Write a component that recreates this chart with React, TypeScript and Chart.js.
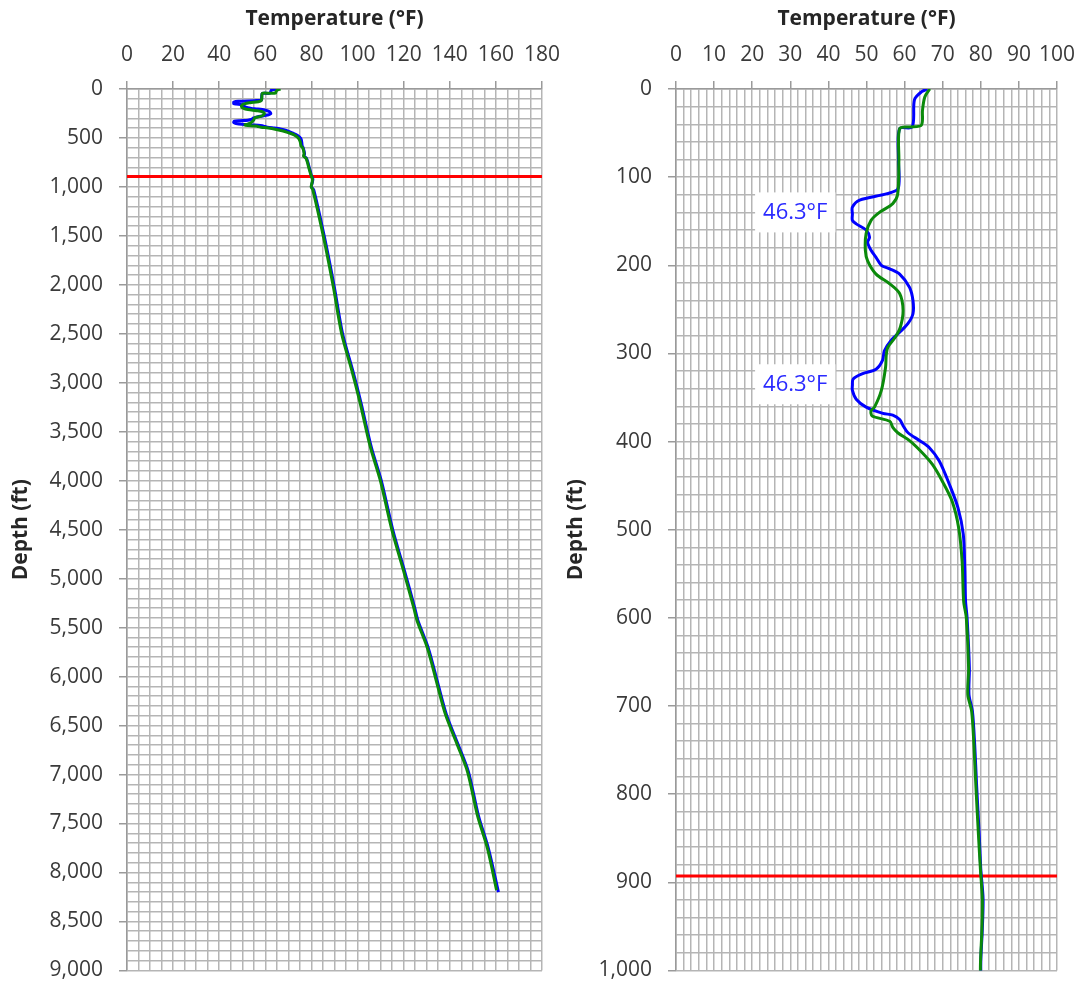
import React, { useEffect, useRef } from "react";
import { Chart, registerables } from "chart.js";

Chart.register(...registerables);

// ---------- data ----------
const blueDepth = [0, 3, 12, 43, 45, 80, 113, 119, 126, 134, 142, 149, 153, 160, 168, 174, 183, 191, 200, 204, 210, 225, 240, 255, 266, 276, 285, 297, 308, 318, 323, 329, 336, 342, 352, 361, 368, 370, 375, 382, 390, 399, 407, 422, 449, 475, 505, 543, 581, 600, 657, 687, 706, 744, 790, 847, 885, 919, 953, 1000, 1030, 1508, 2020, 2498, 2874, 3215, 3660, 4000, 4513, 4923, 5299, 5435, 5709, 6084, 6391, 6698, 6972, 7416, 7758, 8200];
const blueTemp = [66.0, 64.5, 62.6, 62.0, 58.7, 58.4, 58.3, 55.2, 48.2, 46.3, 46.3, 46.3, 47.3, 49.9, 50.8, 50.3, 51.2, 52.5, 53.9, 56.1, 58.7, 61.3, 62.2, 62.2, 60.9, 58.7, 56.5, 54.7, 54.2, 52.5, 49.0, 46.5, 46.3, 46.3, 47.3, 49.9, 54.3, 56.9, 58.7, 59.6, 60.9, 64.0, 66.5, 69.1, 71.8, 74.0, 75.4, 75.8, 76.0, 76.4, 77.0, 76.9, 77.8, 78.4, 78.9, 79.6, 80.0, 80.6, 80.4, 80.0, 81.0, 85.6, 89.9, 93.5, 97.9, 101.6, 106.0, 110.3, 115.4, 120.4, 124.8, 126.3, 130.7, 135.0, 138.6, 143.7, 148.1, 152.4, 156.8, 161.1];

const greenDepth = [0, 9, 24, 41, 43, 45, 81, 119, 130, 140, 149, 164, 183, 195, 210, 221, 232, 251, 270, 282, 293, 301, 316, 342, 361, 365, 371, 377, 384, 390, 399, 413, 426, 445, 468, 498, 536, 581, 600, 657, 687, 706, 744, 790, 847, 885, 919, 953, 1000, 1030, 1508, 2020, 2498, 2874, 3215, 3660, 4000, 4513, 4923, 5299, 5435, 5709, 6084, 6391, 6698, 6972, 7416, 7758, 8180];
const greenTemp = [66.6, 65.3, 64.7, 64.4, 61.3, 58.7, 58.5, 58.2, 56.9, 53.4, 51.2, 49.9, 49.7, 50.3, 52.5, 56.1, 58.7, 59.6, 58.9, 57.5, 55.6, 55.2, 55.0, 53.9, 52.1, 51.2, 51.5, 56.1, 56.9, 58.2, 61.3, 64.7, 67.3, 69.9, 72.5, 74.2, 75.1, 75.5, 76.2, 76.8, 76.6, 77.6, 78.2, 78.7, 79.4, 79.9, 80.4, 80.3, 79.9, 80.6, 85.2, 89.5, 93.1, 97.5, 101.2, 105.6, 109.9, 115.0, 120.0, 124.4, 125.9, 130.3, 134.6, 138.2, 143.3, 147.7, 152.0, 156.4, 160.3];

const redDepth = 893;

const labelTemps = [46.3, 46.3];
const labelDepths = [140, 335];
const labelTexts = ["46.3°F", "46.3°F"];

const xTitle = "Temperature (°F)";
const yTitle = "Depth (ft)";

// ---------- styling ----------
const FONT = "'Open Sans', 'DejaVu Sans', sans-serif";
const GRID = "#b5b5b5";
const TICKTXT = "#3a3a3a";

function pts(d: number[], t: number[]) {
  return d.map((v, i) => ({ x: t[i], y: v }));
}

const labelPlugin = {
  id: "minLabels",
  afterDatasetsDraw(chart: any, _args: any, opts: any) {
    if (!opts || !opts.show) return;
    const ctx = chart.ctx;
    const xs = chart.scales.x;
    const ys = chart.scales.y;
    ctx.save();
    ctx.font = `22px ${FONT}`;
    ctx.textBaseline = "middle";
    ctx.textAlign = "center";
    labelTemps.forEach((t, i) => {
      const px = xs.getPixelForValue(t);
      const py = ys.getPixelForValue(labelDepths[i]);
      const w = ctx.measureText(labelTexts[i]).width + 16;
      const h = 40;
      const right = px - 17;
      ctx.fillStyle = "#ffffff";
      ctx.fillRect(right - w, py - h / 2, w, h);
      ctx.fillStyle = "#2a2aff";
      ctx.fillText(labelTexts[i], right - w / 2, py);
    });
    ctx.restore();
  },
};

type PanelProps = {
  left: number;
  width: number;
  height: number;
  xMax: number;
  xMinor: number;
  xMajor: number;
  yMax: number;
  yMinor: number;
  yMajor: number;
  yAxisWidth: number;
  showLabels: boolean;
};

function Panel(p: PanelProps) {
  const ref = useRef<HTMLCanvasElement | null>(null);
  useEffect(() => {
    if (!ref.current) return;
    const isMajor = (v: number, step: number) => Math.abs(v / step - Math.round(v / step)) < 1e-6;
    const chart = new Chart(ref.current, {
      type: "line",
      data: {
        datasets: [
          {
            label: "green",
            data: pts(greenDepth, greenTemp),
            borderColor: "#0b8a0b",
            borderWidth: 3,
            pointRadius: 0,
            tension: 0.3,
            fill: false,
            order: 0,
          },
          {
            label: "blue",
            data: pts(blueDepth, blueTemp),
            borderColor: "#0000ff",
            borderWidth: 3,
            pointRadius: 0,
            tension: 0.3,
            fill: false,
            order: 1,
          },
          {
            label: "red",
            data: [
              { x: 0, y: redDepth },
              { x: p.xMax, y: redDepth },
            ],
            borderColor: "#ff0000",
            borderWidth: 3,
            pointRadius: 0,
            fill: false,
            order: 2,
          },
        ],
      } as any,
      options: {
        responsive: false,
        animation: false,
        devicePixelRatio: 1,
        layout: { padding: { left: 0, right: 0, top: 0, bottom: 0 } },
        plugins: {
          legend: { display: false },
          tooltip: { enabled: false },
          minLabels: { show: p.showLabels },
        } as any,
        scales: {
          x: {
            type: "linear",
            position: "top",
            min: 0,
            max: p.xMax,
            afterFit: (s: any) => {
              s.height = 89;
            },
            ticks: {
              stepSize: p.xMinor,
              autoSkip: false,
              maxRotation: 0,
              padding: 13,
              color: TICKTXT,
              font: { family: FONT, size: 21 },
              callback: (v: any) => (isMajor(Number(v), p.xMajor) ? String(v) : ""),
            },
            grid: {
              color: GRID,
              lineWidth: 1.5,
              tickLength: 8,
              tickColor: (c: any) => (c.tick && isMajor(c.tick.value, p.xMajor) ? "#9a9a9a" : "rgba(0,0,0,0)"),
              tickWidth: 1.5,
            },
            border: { display: true, color: "#9a9a9a", width: 1.5 },
            title: {
              display: true,
              text: xTitle,
              color: "#262626",
              font: { family: FONT, size: 21, weight: "bold" },
              padding: { top: 6, bottom: 0 },
            },
          },
          y: {
            type: "linear",
            reverse: true,
            min: 0,
            max: p.yMax,
            afterFit: (s: any) => {
              s.width = p.yAxisWidth;
            },
            ticks: {
              stepSize: p.yMinor,
              autoSkip: false,
              padding: 16,
              color: TICKTXT,
              font: { family: FONT, size: 21 },
              callback: (v: any) =>
                isMajor(Number(v), p.yMajor) ? Number(v).toLocaleString("en-US") : "",
            },
            grid: {
              color: GRID,
              lineWidth: 1.5,
              tickLength: 8,
              tickColor: (c: any) => (c.tick && isMajor(c.tick.value, p.yMajor) ? "#9a9a9a" : "rgba(0,0,0,0)"),
              tickWidth: 1.5,
            },
            border: { display: true, color: "#9a9a9a", width: 1.5 },
            title: {
              display: true,
              text: yTitle,
              color: "#262626",
              font: { family: FONT, size: 21, weight: "bold" },
              padding: { top: 8, bottom: 0 },
            },
          },
        },
      } as any,
      plugins: [labelPlugin],
    });
    return () => chart.destroy();
  }, []);
  return (
    <div style={{ position: "absolute", left: p.left, top: 0, width: p.width, height: p.height }}>
      <canvas ref={ref} width={p.width} height={p.height} style={{ width: p.width, height: p.height, display: "block" }} />
    </div>
  );
}

export default function App() {
  return (
    <div style={{ position: "absolute", left: 0, top: 0, width: 1083, height: 981, background: "#ffffff", overflow: "hidden" }}>
      <Panel left={0} width={573} height={999} xMax={180} xMinor={5} xMajor={20} yMax={9000} yMinor={100} yMajor={500} yAxisWidth={127} showLabels={false} />
      <Panel left={555} width={533} height={999} xMax={100} xMinor={2} xMajor={10} yMax={1000} yMinor={20} yMajor={100} yAxisWidth={121} showLabels={true} />
    </div>
  );
}
